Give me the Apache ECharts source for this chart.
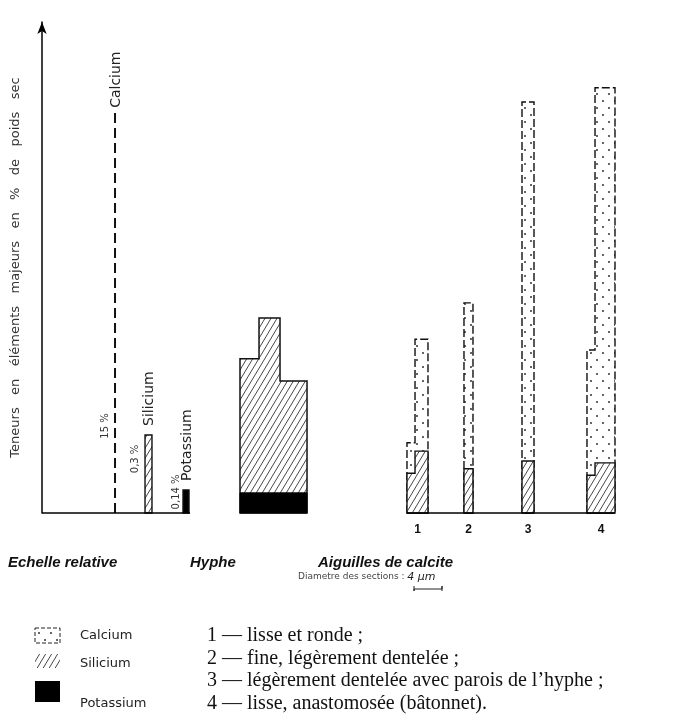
<!DOCTYPE html>
<html><head><meta charset="utf-8">
<script src="https://cdn.jsdelivr.net/npm/echarts@6/dist/echarts.min.js"></script>
<style>html,body{margin:0;padding:0;background:#fff;}#c{width:680px;height:723px;}</style>
</head><body><div id="c"></div>
<script>
// ---------------- data ----------------
const refElements = ['Calcium', 'Silicium', 'Potassium'];
const refPercents = ['15 %', '0,3 %', '0,14 %'];
const refLeft = [12.17, 17.17, 23.5];
const refRight = [12.17, 18.33, 24.5];
const refHeight = [81.5, 15.9, 4.7];
const refBaseline = [0, 24.67];

const hypheEdges = [33.0, 36.17, 39.67, 44.17];
const hypheK = [4.1, 4.1, 4.1];
const hypheSi = [31.4, 39.7, 26.9];

const needleNames = ['1', '2', '3', '4'];
const needleEdges = [[60.83, 62.17, 64.33], [70.33, 71.83], [80.0, 82.0], [90.83, 92.17, 95.5]];
const needleSi = [[8.1, 12.6], [9.0], [10.6], [7.7, 10.2]];
const needleCa = [[14.3, 35.4], [42.8], [83.7], [33.2, 86.6]];
const needleBaseline = [60.83, 95.5];

const groupTitles = ['Echelle relative', 'Hyphe', 'Aiguilles de calcite'];
const legendNames = ['Calcium', 'Silicium', 'Potassium'];
const needleNotes = ['1 — lisse et ronde ;', '2 — fine, légèrement dentelée ;',
  '3 — légèrement dentelée avec parois de l\u2019hyphe ;', '4 — lisse, anastomosée (bâtonnet).'];
const yTitle = 'Teneurs   en   éléments   majeurs   en   %   de   poids   sec';
const scaleLabel = 'Diametre des sections : ';
const scaleValue = '4 µm';

// ---------------- patterns ----------------
function makeHatch() {
  const c = document.createElement('canvas'); c.width = 6; c.height = 10;
  const g = c.getContext('2d');
  g.fillStyle = '#fff'; g.fillRect(0, 0, 6, 10);
  g.strokeStyle = '#333'; g.lineWidth = 0.9; g.beginPath();
  for (const o of [-6, 0, 6]) { g.moveTo(o, 10); g.lineTo(o + 6, 0); }
  g.stroke(); return c;
}
function makeDots() {
  const c = document.createElement('canvas'); c.width = 12; c.height = 14;
  const g = c.getContext('2d');
  g.fillStyle = '#fff'; g.fillRect(0, 0, 12, 14);
  g.fillStyle = '#333';
  [[3, 3], [9, 10]].forEach(p => { g.beginPath(); g.arc(p[0], p[1], 1, 0, Math.PI * 2); g.fill(); });
  return c;
}
const hatchFill = { image: makeHatch(), repeat: 'repeat' };
const dotFill = { image: makeDots(), repeat: 'repeat' };

function stepPolygon(api, edges, heights) {
  const pts = [api.coord([edges[0], 0])];
  heights.forEach((h, i) => { pts.push(api.coord([edges[i], h])); pts.push(api.coord([edges[i + 1], h])); });
  pts.push(api.coord([edges[edges.length - 1], 0]));
  return pts;
}
const sans = '"DejaVu Sans", sans-serif';
const rot = Math.PI / 2;

const chart = echarts.init(document.getElementById('c'), null, { renderer: 'canvas' });
chart.setOption({
  animation: false,
  backgroundColor: '#fff',
  grid: { left: 42, right: 38, top: 22, bottom: 210 },
  xAxis: { type: 'value', min: 0, max: 100, show: false },
  yAxis: {
    type: 'value', min: 0, max: 100,
    axisLine: { show: true, symbol: ['none', 'arrow'], symbolSize: [7, 12], lineStyle: { color: '#000', width: 1.5 } },
    axisTick: { show: false }, axisLabel: { show: false }, splitLine: { show: false },
    name: yTitle, nameLocation: 'middle', nameRotate: 90, nameGap: 20,
    nameTextStyle: { fontFamily: sans, fontSize: 13, color: '#333' }
  },
  series: [
    { // Calcium in needles
      type: 'custom', name: 'Calcium', clip: false, z: 2,
      data: needleCa.map((c, i) => [needleEdges[i][0], c[c.length - 1]]),
      renderItem: (p, api) => {
        const i = p.dataIndex;
        return { type: 'polygon', shape: { points: stepPolygon(api, needleEdges[i], needleCa[i]) },
          style: { fill: dotFill, stroke: '#111', lineWidth: 1.4, lineDash: [8, 3] } };
      }
    },
    { // Silicium in needles
      type: 'custom', name: 'Silicium', clip: false, z: 3,
      data: needleSi.map((s, i) => [needleEdges[i][0], s[s.length - 1]]),
      renderItem: (p, api) => {
        const i = p.dataIndex;
        return { type: 'polygon', shape: { points: stepPolygon(api, needleEdges[i], needleSi[i]) },
          style: { fill: hatchFill, stroke: '#111', lineWidth: 1.4 } };
      }
    },
    { // Hyphe silicium + potassium
      type: 'custom', name: 'Hyphe', clip: false, z: 3,
      data: [[hypheEdges[0], hypheSi[0]]],
      renderItem: (p, api) => ({
        type: 'group', children: [
          { type: 'polygon', shape: { points: stepPolygon(api, hypheEdges, hypheSi) },
            style: { fill: hatchFill, stroke: '#111', lineWidth: 1.5 } },
          { type: 'polygon', shape: { points: stepPolygon(api, hypheEdges, hypheK) },
            style: { fill: '#000', stroke: '#000', lineWidth: 1 } }
        ]
      })
    },
    { // Relative scale
      type: 'custom', name: 'Echelle', clip: false, z: 3,
      data: refElements.map((e, i) => [refLeft[i], refHeight[i]]),
      renderItem: (p, api) => {
        const i = p.dataIndex;
        const top = api.coord([refLeft[i], refHeight[i]]);
        const base = api.coord([refLeft[i], 0]);
        const children = [];
        if (i === 0) {
          children.push({ type: 'line', shape: { x1: base[0], y1: base[1], x2: top[0], y2: top[1] },
            style: { stroke: '#111', lineWidth: 2, lineDash: [10, 5] } });
        } else {
          children.push({ type: 'polygon', shape: { points: stepPolygon(api, [refLeft[i], refRight[i]], [refHeight[i]]) },
            style: { fill: i === 1 ? hatchFill : '#000', stroke: '#111', lineWidth: 1.4 } });
        }
        const midX = (api.coord([refLeft[i], 0])[0] + api.coord([refRight[i], 0])[0]) / 2;
        children.push({ type: 'text', x: midX + 1, y: top[1] - (i === 0 ? 5 : 9), rotation: rot,
          style: { text: refElements[i], font: '14px ' + sans, fill: '#222', align: 'left', verticalAlign: 'middle' } });
        const pctY = [base[1] - 87, top[1] + 24, top[1] + 2][i];
        const pctX = [midX - 10, midX - 13, midX - 10][i];
        children.push({ type: 'text', x: pctX, y: pctY, rotation: rot,
          style: { text: refPercents[i], font: '10px ' + sans, fill: '#333', align: 'center', verticalAlign: 'middle' } });
        return { type: 'group', children };
      }
    },
    { // Baselines
      type: 'custom', name: 'Base', clip: false, z: 4,
      data: [[refBaseline[0], 0], [needleBaseline[0], 0]],
      renderItem: (p, api) => {
        const seg = p.dataIndex === 0 ? refBaseline : needleBaseline;
        const a = api.coord([seg[0], 0]), b = api.coord([seg[1], 0]);
        return { type: 'line', shape: { x1: a[0], y1: a[1], x2: b[0], y2: b[1] }, style: { stroke: '#000', lineWidth: 1.6 } };
      }
    },
    { // needle numbers
      type: 'custom', name: 'Num', clip: false, z: 4,
      data: needleNames.map((n, i) => [needleEdges[i][0], 0]),
      renderItem: (p, api) => {
        const i = p.dataIndex, e = needleEdges[i];
        const c = api.coord([(e[0] + e[e.length - 1]) / 2, 0]);
        return { type: 'text', x: c[0], y: c[1] + 17,
          style: { text: needleNames[i], font: 'bold 12px "Liberation Sans", sans-serif', fill: '#111', align: 'center', verticalAlign: 'middle' } };
      }
    }
  ],
  graphic: [
    ...groupTitles.map((t, i) => ({ type: 'text', x: [8, 190, 318][i], y: 563,
      style: { text: t, font: 'italic bold 15px "Liberation Sans", sans-serif', fill: '#111', align: 'left', verticalAlign: 'middle' } })),
    { type: 'text', x: 298, y: 577, style: { text: '{a|' + scaleLabel + '}{b|' + scaleValue + '}', align: 'left', verticalAlign: 'middle',
      rich: { a: { font: '9px ' + sans, fill: '#444' }, b: { font: 'italic 11px ' + sans, fill: '#222' } } } },
    { type: 'polyline', shape: { points: [[414, 586], [414, 591], [414, 589], [442, 589], [442, 586], [442, 591]] }, style: { stroke: '#222', lineWidth: 1, fill: null } },
    { type: 'rect', shape: { x: 35, y: 628, width: 25, height: 15 }, style: { fill: dotFill, stroke: '#222', lineWidth: 1, lineDash: [4, 2] } },
    { type: 'rect', shape: { x: 35, y: 654, width: 25, height: 14 }, style: { fill: hatchFill, stroke: null } },
    { type: 'rect', shape: { x: 35, y: 681, width: 25, height: 21 }, style: { fill: '#000' } },
    ...legendNames.map((t, i) => ({ type: 'text', x: 80, y: [636, 664, 704][i],
      style: { text: t, font: '13px ' + sans, fill: '#222', align: 'left', verticalAlign: 'middle' } })),
    ...needleNotes.map((t, i) => ({ type: 'text', x: 207, y: [636, 659, 681, 704][i],
      style: { text: t, font: '20px "Liberation Serif", serif', fill: '#111', align: 'left', verticalAlign: 'middle' } }))
  ]
});
</script></body></html>
